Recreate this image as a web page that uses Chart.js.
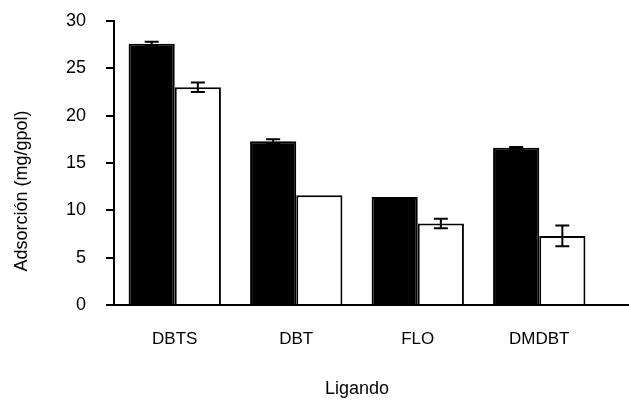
<!DOCTYPE html>
<html>
<head>
<meta charset="utf-8">
<script src="https://cdn.jsdelivr.net/npm/chart.js@4"></script>
<style>
  body { margin: 0; background: #fff; }
  #wrap { width: 629px; height: 400px; }
</style>
</head>
<body>
<div id="wrap"><canvas id="myChart" width="629" height="400"></canvas></div>
<script>
let categories = ['DBTS', 'DBT', 'FLO', 'DMDBT'];
let blackValues = [27.6, 17.3, 11.4, 16.6];
let whiteValues = [23.0, 11.6, 8.6, 7.3];
let blackErrors = [0.2, 0.2, 0, 0.1];
let whiteErrors = [0.5, 0, 0.5, 1.1];
let yTicks = [0, 5, 10, 15, 20, 25, 30];
let yTitle = 'Adsorción (mg/gpol)';
let xTitle = 'Ligando';

let errors = [blackErrors, whiteErrors];
let font = 'Liberation Sans, Arial, sans-serif';

// error bars drawn on top of the bars
let errorBarPlugin = {
  id: 'errorBars',
  afterDatasetsDraw(chart) {
    let ctx = chart.ctx;
    let y = chart.scales.y;
    ctx.save();
    ctx.strokeStyle = '#000';
    ctx.lineWidth = 2;
    chart.data.datasets.forEach((ds, i) => {
      let meta = chart.getDatasetMeta(i);
      meta.data.forEach((bar, j) => {
        let err = errors[i][j];
        if (!err) return;
        let top = y.getPixelForValue(ds.data[j] + err);
        let bottom = y.getPixelForValue(ds.data[j] - err);
        let half = 7;
        ctx.beginPath();
        ctx.moveTo(bar.x, top);
        ctx.lineTo(bar.x, bottom);
        ctx.moveTo(bar.x - half, top);
        ctx.lineTo(bar.x + half, top);
        ctx.moveTo(bar.x - half, bottom);
        ctx.lineTo(bar.x + half, bottom);
        ctx.stroke();
      });
    });
    ctx.restore();
  }
};

// x axis line runs on to the right edge, y title sits a bit low
let extras = {
  id: 'extras',
  afterDraw(chart) {
    let ctx = chart.ctx;
    let a = chart.chartArea;
    ctx.save();
    ctx.strokeStyle = '#000';
    ctx.lineWidth = 2;
    ctx.beginPath();
    ctx.moveTo(a.right - 1, a.bottom);
    ctx.lineTo(chart.width, a.bottom);
    ctx.stroke();

    ctx.translate(22, (a.top + a.bottom) / 2 + 28);
    ctx.rotate(-Math.PI / 2);
    ctx.fillStyle = '#000';
    ctx.font = '18px ' + font;
    ctx.textAlign = 'center';
    ctx.textBaseline = 'middle';
    ctx.fillText(yTitle, 0, 0);
    ctx.restore();
  }
};

let ctx = document.getElementById('myChart').getContext('2d');
let myChart = new Chart(ctx, {
  type: 'bar',
  data: {
    labels: categories,
    datasets: [{
      data: blackValues,
      backgroundColor: '#000',
      borderColor: '#000',
      borderWidth: 2
    }, {
      data: whiteValues,
      backgroundColor: '#fff',
      borderColor: '#000',
      borderWidth: 2
    }]
  },
  options: {
    animation: false,
    responsive: false,
    layout: { padding: { top: 21, right: 29, left: 0, bottom: 0 } },
    categoryPercentage: 0.76,
    barPercentage: 1.0,
    plugins: {
      legend: { display: false },
      tooltip: { enabled: false }
    },
    scales: {
      x: {
        afterFit(scale) { scale.height = 95; },
        grid: { display: false },
        border: { color: '#000', width: 2 },
        ticks: {
          color: '#000',
          padding: 16,
          font: { family: font, size: 17 }
        },
        title: {
          display: true,
          text: xTitle,
          color: '#000',
          padding: { top: 0, bottom: 0 },
          font: { family: font, size: 18 }
        }
      },
      y: {
        min: 0,
        max: 30,
        afterFit(scale) {
          scale.width = 114;
          scale.paddingTop = 0;
          scale.paddingBottom = 0;
        },
        afterBuildTicks(scale) { scale.ticks = yTicks.map(v => ({ value: v })); },
        grid: {
          drawOnChartArea: false,
          drawTicks: true,
          tickLength: 8,
          color: '#000',
          lineWidth: 2
        },
        border: { color: '#000', width: 2 },
        ticks: {
          color: '#000',
          padding: 20,
          font: { family: font, size: 18 }
        },
        title: { display: false }
      }
    }
  },
  plugins: [errorBarPlugin, extras]
});
</script>
</body>
</html>
